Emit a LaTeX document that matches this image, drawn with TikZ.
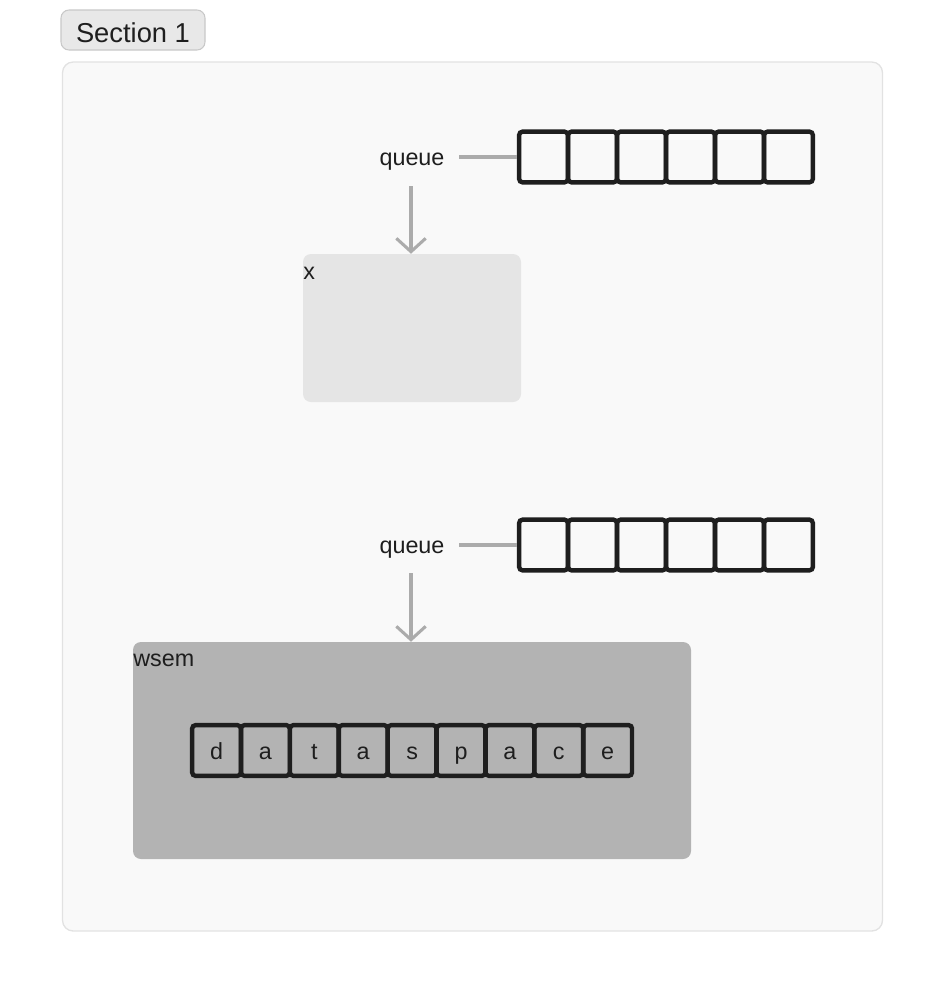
\documentclass[tikz,border=0pt]{standalone}
\usepackage{fontspec}
\setmainfont{Liberation Sans}
\usetikzlibrary{arrows.meta}
\definecolor{framefill}{HTML}{F9F9F9}
\definecolor{frameline}{HTML}{E2E2E2}
\definecolor{tagfill}{HTML}{E8E8E8}
\definecolor{tagline}{HTML}{C8C8C8}
\definecolor{conn}{HTML}{ABABAB}
\definecolor{xfill}{HTML}{E5E5E5}
\definecolor{wfill}{HTML}{B3B3B3}
\definecolor{ink}{HTML}{1E1E1E}
\tikzset{
  qcell/.style={draw=ink, line width=3.3pt, rounded corners=2.5pt, minimum width=36.5pt, minimum height=38pt, inner sep=0pt},
  letter/.style={font=\fontsize{17.5}{20}\selectfont, text=ink, inner sep=0pt, anchor=base},
  lbl/.style={font=\fontsize{17.5}{20}\selectfont, text=ink, inner sep=0pt},
  connline/.style={draw=conn, line width=2.3pt},
  connarrow/.style={draw=conn, line width=2.3pt, -{Straight Barb[length=10pt,width=22pt,line width=2.3pt]}},
}
\begin{document}
\begin{tikzpicture}[x=0.75pt,y=-0.75pt]
\useasboundingbox (0,0) rectangle (945,993);
% section frame
\node[draw=frameline, fill=framefill, line width=1pt, rounded corners=8pt, minimum width=615pt, minimum height=651.75pt, inner sep=0pt] (frame) at (472.5,496.5) {};
% section tag
\node[draw=tagline, fill=tagfill, line width=0.8pt, rounded corners=6pt, minimum width=108pt, minimum height=30pt, inner sep=0pt] (tag) at (133,30) {};
\node[font=\fontsize{20.5}{24}\selectfont, text=ink, inner sep=0pt] (tagt) at (133,33) {Section 1};
% queue 1
\node[lbl] (q1) at (412,162) {queue};
\foreach \i in {0,...,5}{
  \node[qcell] (a\i) at ({543.5+49*\i},157) {};
}
\coordinate (q1s) at (459,157);
\draw[connline] (q1s) -- (a0.west);
% box x
\node[fill=xfill, rounded corners=6pt, minimum width=163.5pt, minimum height=111pt, inner sep=0pt] (xbox) at (412,328) {};
\node[lbl, anchor=north west] (xl) at (303,267) {x};
\coordinate (q1b) at (411,186);
\draw[connarrow] (q1b) -- (q1b|-xbox.north);
% queue 2
\node[lbl] (q2) at (412,550) {queue};
\foreach \i in {0,...,5}{
  \node[qcell] (b\i) at ({543.5+49*\i},545) {};
}
\coordinate (q2s) at (459,545);
\draw[connline] (q2s) -- (b0.west);
% wsem box
\node[fill=wfill, rounded corners=6pt, minimum width=418.5pt, minimum height=162.75pt, inner sep=0pt] (wbox) at (412,750.5) {};
\node[lbl, anchor=north west] (wl) at (133,654) {wsem};
\coordinate (q2b) at (411,573);
\draw[connarrow] (q2b) -- (q2b|-wbox.north);
% dataspace cells
\foreach \c [count=\i from 0] in {d,a,t,a,s,p,a,c,e}{
  \node[qcell] (d\i) at ({216.5+48.9*\i},750.5) {};
  \node[letter] (l\i) at ({216.5+48.9*\i},759.5) {\c};
}
\end{tikzpicture}
\end{document}
